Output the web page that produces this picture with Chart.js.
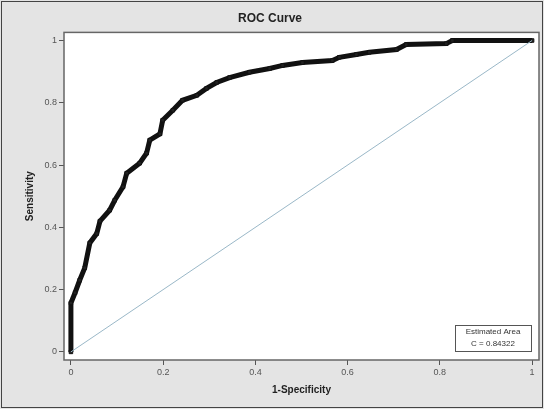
<!DOCTYPE html>
<html>
<head>
<meta charset="utf-8">
<script src="https://cdn.jsdelivr.net/npm/chart.js@4"></script>
<style>
  html, body { margin: 0; padding: 0; background: #e4e4e4; }
  #wrap { width: 544px; height: 409px; }
</style>
</head>
<body>
<div id="wrap"><canvas id="myChart" width="544" height="409"></canvas></div>
<script>
// ROC points
const fpr = [0, 0, 0.009, 0.019, 0.03, 0.041, 0.056, 0.063, 0.084, 0.095, 0.113, 0.121, 0.149, 0.164,
  0.171, 0.193, 0.199, 0.221, 0.242, 0.273, 0.294, 0.316, 0.344, 0.387, 0.431, 0.459, 0.502, 0.567,
  0.582, 0.619, 0.647, 0.706, 0.727, 0.814, 0.827, 1];
const tpr = [0, 0.157, 0.19, 0.23, 0.27, 0.35, 0.38, 0.42, 0.455, 0.487, 0.53, 0.574, 0.606, 0.638,
  0.68, 0.70, 0.744, 0.776, 0.808, 0.824, 0.846, 0.865, 0.881, 0.898, 0.91, 0.92, 0.929, 0.936,
  0.946, 0.955, 0.962, 0.971, 0.987, 0.99, 1, 1];
const refLine = [0, 1];
const tickVals = [0, 0.2, 0.4, 0.6, 0.8, 1];
const tickLabels = ['0', '0.2', '0.4', '0.6', '0.8', '1'];
const areaText = ['Estimated Area', 'C = 0.84322'];

const rocPts = fpr.map((x, i) => ({ x: x, y: tpr[i] }));
const refPts = refLine.map(v => ({ x: v, y: v }));

// background, outer frame, plot frame and the area box
const decor = {
  id: 'decor',
  beforeDraw(chart) {
    const ctx = chart.ctx;
    const a = chart.chartArea;
    ctx.save();
    ctx.fillStyle = '#e4e4e4';
    ctx.fillRect(0, 0, chart.width, chart.height);
    ctx.strokeStyle = '#444';
    ctx.lineWidth = 1;
    ctx.strokeRect(1.5, 1.5, chart.width - 3, chart.height - 3);
    ctx.fillStyle = '#ffffff';
    ctx.fillRect(a.left, a.top, a.right - a.left, a.bottom - a.top);
    ctx.restore();
  },
  afterDraw(chart) {
    const ctx = chart.ctx;
    const a = chart.chartArea;
    ctx.save();
    ctx.strokeStyle = '#666';
    ctx.lineWidth = 1.5;
    ctx.strokeRect(a.left, a.top, a.right - a.left, a.bottom - a.top);
    const w = 76, h = 26;
    const bx = a.right - 84, by = a.bottom - 35;
    ctx.fillStyle = '#fff';
    ctx.fillRect(bx, by, w, h);
    ctx.strokeStyle = '#555';
    ctx.lineWidth = 1;
    ctx.strokeRect(bx + 0.5, by + 0.5, w, h);
    ctx.fillStyle = '#333';
    ctx.font = '8px "Liberation Sans", Arial, sans-serif';
    ctx.textAlign = 'center';
    ctx.textBaseline = 'middle';
    ctx.fillText(areaText[0], bx + w / 2, by + 7);
    ctx.fillText(areaText[1], bx + w / 2, by + 19);
    ctx.restore();
  }
};

const ctx = document.getElementById('myChart').getContext('2d');
const chart = new Chart(ctx, {
  type: 'scatter',
  data: {
    datasets: [
      {
        data: refPts,
        showLine: true,
        borderColor: '#9ab8c8',
        borderWidth: 1,
        pointRadius: 0
      },
      {
        data: rocPts,
        showLine: true,
        borderColor: '#111',
        borderWidth: 5,
        pointStyle: 'rect',
        pointRadius: 2.5,
        pointBackgroundColor: '#222',
        pointBorderColor: '#111',
        pointBorderWidth: 1
      }
    ]
  },
  options: {
    responsive: false,
    animation: false,
    layout: { padding: { top: 0, right: 4, bottom: 0, left: 0 } },
    plugins: {
      legend: { display: false },
      tooltip: { enabled: false },
      title: {
        display: true,
        text: 'ROC Curve',
        color: '#222',
        font: { family: '"Liberation Sans", Arial, sans-serif', size: 12, weight: 'bold', lineHeight: 1.2 },
        padding: { top: 11, bottom: 7 }
      }
    },
    scales: {
      x: {
        type: 'linear',
        min: -0.015,
        max: 1.015,
        afterBuildTicks: s => { s.ticks = tickVals.map(v => ({ value: v })); },
        afterFit: s => { s.height = 49; },
        border: { display: false },
        grid: { drawOnChartArea: false, tickLength: 5, color: '#555', tickWidth: 1 },
        ticks: {
          color: '#555',
          padding: 2,
          maxRotation: 0,
          font: { family: '"Liberation Sans", Arial, sans-serif', size: 9 },
          callback: (v, i) => tickLabels[i]
        },
        title: {
          display: true,
          text: '1-Specificity',
          color: '#222',
          font: { family: '"Liberation Sans", Arial, sans-serif', size: 10, weight: 'bold', lineHeight: 1.2 },
          padding: { top: 0, bottom: 13 }
        }
      },
      y: {
        type: 'linear',
        min: -0.026,
        max: 1.026,
        afterBuildTicks: s => { s.ticks = tickVals.map(v => ({ value: v })); },
        afterFit: s => { s.width = 64; },
        border: { display: false },
        grid: { drawOnChartArea: false, tickLength: 5, color: '#555', tickWidth: 1 },
        ticks: {
          color: '#555',
          padding: 2,
          font: { family: '"Liberation Sans", Arial, sans-serif', size: 9 },
          callback: (v, i) => tickLabels[i]
        },
        title: {
          display: true,
          text: 'Sensitivity',
          color: '#222',
          font: { family: '"Liberation Sans", Arial, sans-serif', size: 10, weight: 'bold', lineHeight: 1.2 },
          padding: { top: 24, bottom: 0 }
        }
      }
    }
  },
  plugins: [decor]
});
</script>
</body>
</html>
